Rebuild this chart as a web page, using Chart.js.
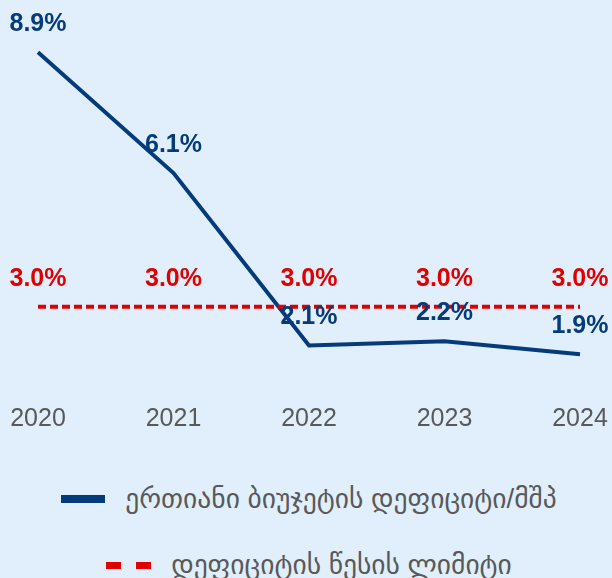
<!DOCTYPE html>
<html>
<head>
<meta charset="utf-8">
<script src="https://cdn.jsdelivr.net/npm/chart.js"></script>
<style>
    html, body { margin: 0; padding: 0; background: #e1effc; }
    #wrap { position: relative; width: 612px; height: 578px; overflow: hidden; }
    #chart { position: absolute; left: 0; top: 0; }
    .legend-row { position: absolute; left: 3px; width: 612px; height: 30px; display: flex; justify-content: center; align-items: center;
        font-family: "Liberation Sans", "DejaVu Sans", sans-serif; font-size: 27.5px; line-height: 30px; color: #595959; white-space: nowrap; }
    .legend-row .sym { width: 44px; height: 8px; margin-right: 20px; flex: none; }
</style>
</head>
<body>
<div id="wrap">
    <canvas id="chart" width="612" height="453"></canvas>
    <div id="legend"></div>
</div>
<script>
// მონაცემები
const years = ['2020', '2021', '2022', '2023', '2024'];
const deficitValues = [8.9, 6.1, 2.1, 2.2, 1.9];
const ruleLimit = [3.0, 3.0, 3.0, 3.0, 3.0];
const seriesNames = ['ერთიანი ბიუჯეტის დეფიციტი/მშპ', 'დეფიციტის წესის ლიმიტი'];

const NAVY = '#053b7a';
const RED = '#e00000';

// Etiketter ovanför punkterna
const valueLabels = {
    id: 'valueLabels',
    afterDatasetsDraw(chart) {
        const ctx = chart.ctx;
        ctx.save();
        ctx.font = 'bold 25px "Liberation Sans", Arial, sans-serif';
        ctx.textAlign = 'center';
        ctx.textBaseline = 'middle';
        chart.data.datasets.forEach((ds, i) => {
            const meta = chart.getDatasetMeta(i);
            ctx.fillStyle = ds.borderColor;
            meta.data.forEach((pt, j) => {
                ctx.fillText(ds.data[j].toFixed(1) + '%', pt.x, pt.y - 28);
            });
        });
        ctx.restore();
    }
};

const chart = new Chart(document.getElementById('chart'), {
    type: 'line',
    data: {
        labels: years,
        datasets: [{
            label: seriesNames[1],
            data: ruleLimit,
            borderColor: RED,
            borderWidth: 4,
            borderDash: [8, 4],
            pointRadius: 0,
            fill: false
        }, {
            label: seriesNames[0],
            data: deficitValues,
            borderColor: NAVY,
            borderWidth: 4,
            pointRadius: 0,
            tension: 0,
            fill: false
        }]
    },
    options: {
        responsive: false,
        animation: false,
        layout: { padding: { left: 38, right: 32, top: 48, bottom: 8 } },
        plugins: {
            legend: { display: false },
            tooltip: { enabled: false }
        },
        scales: {
            x: {
                offset: false,
                grid: { display: false, drawTicks: false },
                border: { display: false },
                ticks: {
                    padding: 11,
                    color: '#595959',
                    font: { family: '"Liberation Sans", Arial, sans-serif', size: 25 }
                },
                // låt layout-padding styra kanterna
                afterFit(scale) {
                    scale.paddingLeft = 0;
                    scale.paddingRight = 0;
                }
            },
            y: {
                display: false,
                min: 1,
                max: 9
            }
        }
    },
    plugins: [valueLabels]
});

// HTML-legend
const legend = document.getElementById('legend');
const rows = [
    { name: seriesNames[0], color: NAVY, dashed: false, top: 484 },
    { name: seriesNames[1], color: RED, dashed: true, top: 550 }
];
rows.forEach(r => {
    const row = document.createElement('div');
    row.className = 'legend-row';
    row.style.top = r.top + 'px';
    const sym = document.createElement('div');
    sym.className = 'sym';
    if (r.dashed) {
        sym.style.background = `repeating-linear-gradient(90deg, ${r.color} 0 15px, transparent 15px 30px)`;
        sym.style.width = '45px';
        sym.style.height = '7px';
    } else {
        sym.style.background = r.color;
    }
    const txt = document.createElement('span');
    txt.textContent = r.name;
    row.appendChild(sym);
    row.appendChild(txt);
    legend.appendChild(row);
});
</script>
</body>
</html>
